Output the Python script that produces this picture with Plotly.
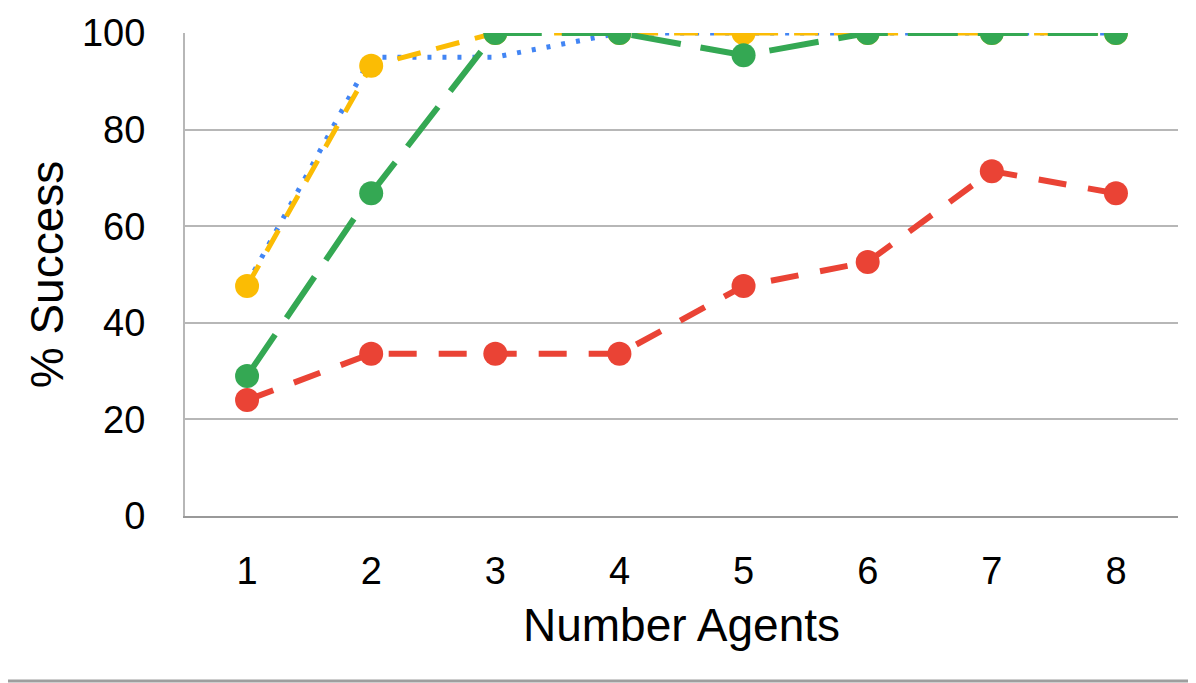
import plotly.graph_objects as go

# Number of agents on the x axis
agents = [1, 2, 3, 4, 5, 6, 7, 8]

# % success per series
blue_dotted = [48, 95, 95, 100, 100, 100, 100, 100]
yellow_dash = [47.6, 93.2, 100, 100, 100, 100, 100, 100]
green_longdash = [29, 66.8, 100, 100, 95.4, 100, 100, 100]
red_dash = [24, 33.6, 33.6, 33.6, 47.6, 52.6, 71.4, 66.8]

y_ticks = [0, 20, 40, 60, 80, 100]

font_family = "Liberation Sans, Arial, sans-serif"

# page body has an 8px margin, so the figure is sized to fit the window
fig_w, fig_h = 1188, 675
m_l, m_r, m_t, m_b = 177, 18, 25, 167
plot_w = fig_w - m_l - m_r
plot_h = fig_h - m_t - m_b

fig = go.Figure()

# blue dotted line, no markers
fig.add_trace(go.Scatter(
    x=agents, y=blue_dotted,
    mode="lines",
    line=dict(color="#4285F4", width=5, dash="4px,11px"),
    showlegend=False,
))

fig.add_trace(go.Scatter(
    x=agents, y=yellow_dash,
    mode="lines+markers",
    line=dict(color="#FBBC04", width=5, dash="24px,16px"),
    marker=dict(color="#FBBC04", size=24),
    showlegend=False,
))

fig.add_trace(go.Scatter(
    x=agents, y=green_longdash,
    mode="lines+markers",
    line=dict(color="#34A853", width=6, dash="50px,20px"),
    marker=dict(color="#34A853", size=24),
    showlegend=False,
))

fig.add_trace(go.Scatter(
    x=agents, y=red_dash,
    mode="lines+markers",
    line=dict(color="#EA4335", width=6, dash="28px,22px"),
    marker=dict(color="#EA4335", size=24),
    showlegend=False,
))

fig.update_layout(
    width=fig_w,
    height=fig_h,
    margin=dict(l=m_l, r=m_r, t=m_t, b=m_b, autoexpand=False),
    paper_bgcolor="white",
    plot_bgcolor="white",
    font=dict(family=font_family, size=38, color="#000000"),
    xaxis=dict(
        range=[0.5, 8.5],
        tickvals=agents,
        showgrid=False,
        showline=True,
        linecolor="#999999",
        linewidth=2,
        zeroline=False,
        ticks="",
        automargin=False,
        ticklabelstandoff=20,
        title=dict(text="Number Agents", standoff=18),
    ),
    yaxis=dict(
        range=[0, 100],
        tickvals=y_ticks,
        showgrid=True,
        gridcolor="#b7b7b7",
        gridwidth=2,
        showline=True,
        linecolor="#b7b7b7",
        linewidth=2,
        zeroline=False,
        ticks="",
        automargin=False,
        ticklabelstandoff=30,
        title=dict(text="% Success", standoff=4),
    ),
    shapes=[
        # card border along the bottom edge
        dict(type="line", xref="paper", yref="paper",
             x0=-m_l / plot_w, x1=(fig_w - 3 - m_l) / plot_w,
             y0=-(m_b - 2) / plot_h, y1=-(m_b - 2) / plot_h,
             line=dict(color="#9e9e9e", width=3)),
    ],
)

fig.write_html("out.html")
